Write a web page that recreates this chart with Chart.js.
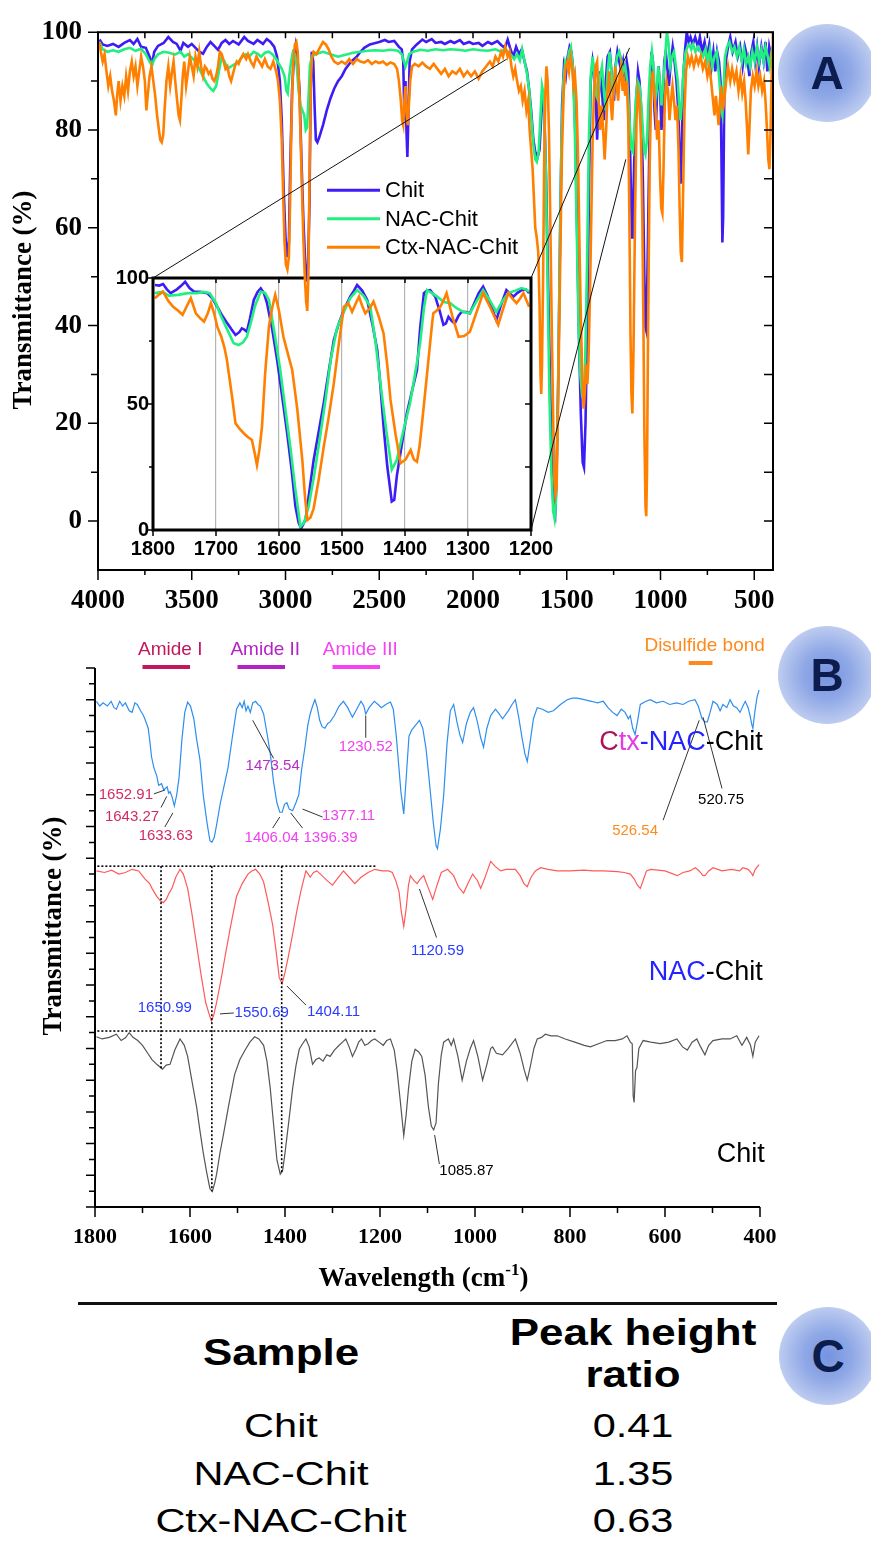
<!DOCTYPE html>
<html>
<head>
<meta charset="utf-8">
<title>FTIR spectra</title>
<script src="https://cdn.jsdelivr.net/npm/chart.js@4.4.1/dist/chart.umd.min.js"></script>
<style>
html,body{margin:0;padding:0;background:#fff}
body{position:relative;width:871px;height:1542px;overflow:hidden;font-family:Arial,"Liberation Sans",sans-serif}
canvas{position:absolute}
#cMain{left:0;top:0;z-index:2}
#cInset{left:100px;top:258px;z-index:1}
#cB{left:0;top:620px;z-index:1}
.badge{position:absolute;z-index:3;width:98px;height:98px;margin:-49px 0 0 -49px;border-radius:50%;
 background:radial-gradient(circle,#7693e0 0%,#8fa8e6 35%,#b6c6ee 65%,#d5def5 88%,rgba(226,232,248,.6) 100%);
 color:#0b1c4d;font:bold 46px Arial,"Liberation Sans",sans-serif;display:flex;align-items:center;justify-content:center}
.rule{position:absolute;left:78px;top:1302px;width:699px;height:3px;background:#111}
.cell{position:absolute;transform:translate(-50%,-50%) scaleX(1.22);white-space:nowrap;color:#000;line-height:1}
.hd{font-weight:bold;font-size:36px}
.rw{font-size:34px}
</style>
</head>
<body>
<canvas id="cMain" width="871" height="620"></canvas>
<canvas id="cInset" width="470" height="310"></canvas>
<canvas id="cB" width="871" height="680"></canvas>
<div class="badge" style="left:827px;top:73px">A</div>
<div class="badge" style="left:827px;top:675px">B</div>
<div class="badge" style="left:828px;top:1356px">C</div>
<div class="rule"></div>
<div id="table"></div>
<script>
// ---------- panel A : full range, [wavenumber, transmittance] ----------
const chitA = [[3992,98.5],[3975,97.5],[3950,97.2],[3920,97.6],[3890,97],[3860,97.8],[3830,98.4],[3810,97.6],[3790,98.6],[3770,97],[3745,96.8],[3725,95],[3712,93.5],[3700,96],[3680,97.2],[3650,97.8],[3625,99],[3600,98],[3580,97.6],[3560,96.2],[3545,97.8],[3520,97],[3500,97.6],[3480,96.8],[3460,96],[3440,95.6],[3420,97],[3400,98],[3380,97.2],[3360,96.4],[3340,97.8],[3320,98.4],[3300,97.6],[3280,98.2],[3250,97.5],[3220,99],[3200,98.2],[3170,97.6],[3150,98.4],[3120,97.6],[3100,98.6],[3080,98],[3060,97],[3045,95],[3030,90],[3020,82],[3010,68],[3000,58],[2990,54],[2982,57],[2975,72],[2965,88],[2955,95],[2945,97.5],[2938,96],[2925,88],[2915,74],[2905,62],[2895,53],[2888,49],[2880,52],[2872,65],[2866,88],[2860,96],[2852,94],[2845,85],[2838,78],[2830,77.5],[2820,78.5],[2800,81],[2780,84],[2760,86.5],[2740,88.5],[2720,90],[2700,91],[2680,92.5],[2650,94],[2620,95],[2600,96],[2580,96.8],[2550,97.5],[2520,97.8],[2500,98],[2470,98.4],[2450,98],[2420,98.2],[2395,97],[2380,96.5],[2372,94],[2366,82],[2360,90],[2355,80],[2350,74.5],[2344,84],[2338,94],[2325,96.5],[2300,97.5],[2270,98.5],[2250,98],[2220,98.6],[2200,97.8],[2170,98],[2150,97.6],[2120,98.2],[2100,97.8],[2070,98.4],[2050,97.6],[2020,98],[2000,97.6],[1970,97.8],[1950,97.2],[1920,98],[1900,97.6],[1870,98.2],[1850,97.4],[1830,96.8],[1815,98.5],[1800,96.5],[1785,95],[1770,97],[1755,95.5],[1740,96.5],[1725,94],[1712,92],[1700,88],[1690,84],[1678,78],[1668,75.5],[1655,74.5],[1645,76],[1637,82],[1628,88],[1620,84],[1610,70],[1600,50],[1590,30],[1580,12],[1570,2],[1562,1],[1555,8],[1545,30],[1535,60],[1525,85],[1515,93],[1505,91],[1495,95],[1485,97],[1475,96],[1465,92],[1455,80],[1445,60],[1435,38],[1425,22],[1415,12],[1408,11],[1400,20],[1390,42],[1380,72],[1372,90],[1362,94],[1352,91],[1345,86],[1338,78],[1330,86],[1322,92],[1312,88],[1302,82],[1292,90],[1282,95],[1270,96],[1258,90],[1248,86],[1240,93],[1230,96],[1220,94],[1210,92],[1200,94],[1190,90],[1180,94],[1172,92],[1165,82],[1158,68],[1152,58],[1147,62],[1140,74],[1130,86],[1120,92],[1112,90],[1103,84],[1095,72],[1088,55],[1082,40],[1076,39],[1070,50],[1062,70],[1055,88],[1048,96],[1040,94],[1032,84],[1025,80],[1018,88],[1010,93],[1002,88],[995,80],[988,84],[980,94],[972,96],[962,92],[955,89],[945,94],[935,97],[925,94],[915,90],[905,84],[898,74],[893,69],[888,74],[880,90],[870,96],[860,100],[850,98],[840,99],[828,97.5],[815,99],[800,97],[790,99],[778,96],[765,98],[752,95],[740,97.5],[728,93],[718,96],[708,92],[698,96],[688,94],[680,90],[675,75],[670,57],[666,62],[660,86],[652,94],[640,97],[628,99],[615,96],[600,98],[588,95],[575,97],[562,93],[550,97],[538,95],[526,91],[515,96],[505,98],[495,94],[485,97],[475,93],[462,97],[450,94],[440,98],[430,92],[420,97],[410,95],[403,97]];
const nacA = [[3992,98],[3975,96.5],[3950,96],[3920,96.3],[3890,96],[3860,96.5],[3830,96.8],[3800,96.2],[3770,96.6],[3745,95.5],[3725,94],[3712,93.2],[3700,94.5],[3680,95.5],[3650,96],[3620,95.8],[3590,95.4],[3560,96],[3540,95],[3520,95.5],[3500,94.8],[3480,94],[3460,92.5],[3440,91],[3420,89.5],[3400,88.5],[3385,88],[3370,89],[3355,92],[3340,95],[3325,94],[3310,92.5],[3290,93],[3270,93.5],[3250,94],[3230,95],[3210,95.5],[3190,95.2],[3170,96],[3150,95.6],[3130,95],[3110,95.8],[3090,96],[3070,95.5],[3050,94.5],[3035,93.5],[3020,92.5],[3005,91],[2995,88],[2988,87.5],[2980,91],[2970,94],[2960,96],[2950,95.5],[2940,93],[2930,88],[2920,85],[2910,84],[2900,83],[2892,80],[2885,80.5],[2878,86],[2870,93],[2860,95],[2840,95.5],[2800,96],[2760,95.5],[2720,95],[2680,95.4],[2640,95.8],[2600,96],[2560,96.2],[2520,96.3],[2480,96.2],[2440,96.4],[2400,96.2],[2380,95.5],[2368,94],[2360,93],[2352,94],[2340,95.5],[2320,96],[2280,96.4],[2240,96.2],[2200,96.5],[2160,96.3],[2120,96.5],[2080,96.4],[2040,96.2],[2000,96.5],[1960,96.3],[1920,96.2],[1880,96.5],[1850,96],[1830,96.6],[1810,95.8],[1800,95.5],[1780,94.5],[1765,95.5],[1750,94.2],[1738,96.5],[1725,94],[1712,91.5],[1700,88],[1688,82],[1678,77],[1668,74],[1660,73.5],[1650,75.5],[1640,83],[1632,89],[1622,87],[1612,72],[1602,48],[1592,25],[1582,10],[1572,2],[1565,0.5],[1558,4],[1548,22],[1538,52],[1528,78],[1518,90],[1508,94],[1498,93],[1488,96],[1478,97],[1468,93],[1458,82],[1448,62],[1438,42],[1428,30],[1418,25.5],[1410,25],[1402,32],[1392,52],[1382,78],[1372,91],[1362,95],[1352,91],[1342,87],[1332,86],[1322,91],[1312,93],[1302,88],[1292,84],[1282,92],[1272,96],[1262,92],[1252,87],[1242,92],[1232,95],[1220,96],[1208,94],[1198,92],[1188,93],[1178,90],[1170,85],[1162,80],[1155,76],[1148,75.5],[1140,80],[1132,86],[1122,90],[1112,89],[1102,85],[1094,80],[1087,76],[1080,75],[1072,78],[1064,86],[1055,93],[1046,96],[1036,92],[1028,86],[1020,88],[1012,93],[1003,90],[995,85],[985,90],[975,95],[966,100],[958,98],[948,93],[938,95],[928,96],[918,93],[908,90],[900,85],[893,82],[886,86],[876,93],[866,96],[856,97],[846,97.5],[836,96.5],[826,97.5],[814,96],[800,97],[786,96],[772,95],[760,96.5],[748,94],[736,96.5],[724,93],[712,95],[700,96],[690,92],[682,88],[676,84],[670,83],[664,88],[656,95],[645,97],[632,98],[618,96],[605,97],[592,95],[580,97],[566,94],[555,96.5],[543,93.5],[532,95],[522,93],[510,96],[498,94],[486,97],[474,94],[462,96.5],[450,94],[440,97],[428,95],[418,93],[408,96],[402,97]];
const ctxA = [[3992,98],[3985,96],[3975,94],[3965,95.5],[3955,92],[3945,89],[3935,91],[3925,88],[3915,86],[3905,83],[3898,87],[3890,90],[3880,86],[3870,89],[3860,87],[3850,91],[3840,88],[3830,92],[3820,94],[3810,91],[3800,93],[3790,89],[3780,92],[3770,95],[3760,93],[3750,90],[3742,84],[3735,87],[3725,91],[3715,93],[3705,90],[3695,87],[3685,83],[3675,80],[3668,78],[3660,77.5],[3652,79],[3645,84],[3635,90],[3625,93],[3615,89],[3605,92],[3597,94],[3588,90],[3578,86],[3570,83],[3563,82],[3556,86],[3548,91],[3540,94],[3530,89],[3520,92],[3510,95],[3500,93],[3490,91],[3480,95],[3470,93],[3460,96],[3450,93],[3440,91],[3430,93],[3420,92.5],[3410,91.5],[3400,92],[3390,90.5],[3380,90],[3370,91],[3360,93],[3350,96],[3340,95.5],[3330,94],[3320,92.5],[3310,93],[3300,91],[3290,90],[3280,91.5],[3270,93],[3260,94],[3250,93.5],[3240,94.5],[3225,95.5],[3210,94.5],[3200,95.5],[3185,94],[3170,93],[3155,95],[3140,94],[3125,93],[3110,94.5],[3095,93],[3080,92.5],[3065,94],[3050,92],[3040,90],[3030,86],[3020,78],[3012,66],[3005,57],[2998,52.5],[2990,51.5],[2982,54],[2975,66],[2968,82],[2960,93],[2950,97.5],[2942,98],[2935,96],[2925,86],[2915,72],[2905,58],[2897,50],[2890,45],[2884,43],[2878,50],[2872,70],[2865,90],[2858,95],[2850,96],[2835,95.5],[2815,97],[2800,98],[2785,97.5],[2770,96.5],[2755,95],[2740,94],[2720,93.5],[2700,94],[2680,93.5],[2660,94.5],[2640,93.5],[2620,94.5],[2600,94],[2580,93.8],[2560,94.3],[2540,93.5],[2520,94],[2500,93.7],[2480,94],[2460,93.3],[2440,93.8],[2420,93.5],[2405,92.5],[2395,90],[2385,86],[2378,82],[2372,81],[2366,86],[2360,89],[2354,83],[2348,81],[2342,85],[2335,90],[2325,93],[2310,93.5],[2290,93],[2270,93.8],[2250,93],[2230,92.5],[2210,93.5],[2190,92.5],[2170,91.5],[2150,92.5],[2130,91],[2110,92],[2090,91.5],[2070,92.5],[2050,91],[2030,92],[2010,91],[1990,92],[1970,90.5],[1950,92],[1930,93],[1910,94],[1895,93],[1880,95],[1865,94],[1850,96],[1840,95],[1828,97],[1815,95],[1805,96],[1795,93],[1785,91],[1775,92.5],[1765,90],[1755,88],[1745,89],[1735,86],[1725,88],[1715,84],[1706,86],[1698,80],[1690,76],[1682,72],[1675,66],[1668,60],[1660,58],[1652,55],[1645,44],[1640,30],[1636,26],[1632,32],[1626,50],[1620,75],[1614,88],[1608,93],[1602,90],[1595,80],[1588,62],[1580,40],[1572,20],[1565,8],[1560,5.5],[1554,7],[1546,25],[1536,50],[1526,75],[1516,88],[1506,93],[1496,94],[1488,92],[1480,95],[1472,93],[1464,89],[1456,91],[1448,86],[1440,75],[1432,56],[1424,40],[1416,28],[1410,23],[1404,26],[1397,32],[1390,28],[1384,33],[1377,45],[1370,60],[1362,78],[1354,88],[1346,93],[1338,94],[1330,86],[1322,80],[1314,85],[1306,80],[1298,74],[1290,80],[1282,88],[1274,92],[1266,86],[1258,82],[1250,88],[1242,93],[1234,89],[1226,86],[1218,91],[1210,93],[1202,88],[1195,90],[1188,87],[1180,90],[1172,82],[1166,62],[1160,38],[1155,26],[1150,22],[1144,35],[1136,62],[1128,82],[1120,88],[1112,86],[1104,78],[1097,62],[1091,40],[1086,18],[1080,3],[1076,1],[1072,10],[1066,40],[1058,72],[1050,88],[1042,92],[1034,88],[1026,84],[1018,78],[1010,82],[1002,70],[996,64],[990,63],[984,72],[977,86],[968,90],[960,88],[952,82],[944,86],[936,89],[928,86],[920,82],[912,85],[904,76],[898,64],[892,55],[886,53],[880,66],[872,84],[864,92],[854,95],[844,93.5],[834,95],[822,93],[810,95],[798,93.5],[786,95],[774,92.5],[762,94],[750,91],[740,93],[730,90],[720,86],[712,83],[705,87],[697,84],[690,81],[683,86],[675,89],[667,84],[660,86],[650,90],[640,93],[628,90],[618,92.5],[606,90],[595,92],[584,88],[574,91],[564,87.5],[554,90],[546,86],[538,80],[532,75],[526,80],[518,88],[508,91],[498,89],[488,92],[478,89],[468,91],[458,88],[448,90],[440,86],[432,80],[425,74],[419,72],[414,78],[409,88],[404,96],[401,100]];

// ---------- inset 1800-1200, own 0-100 scale ----------
const chitIn = [[1797,97.2],[1790,97],[1784,97.6],[1778,95.5],[1772,94],[1762,95.5],[1755,97],[1749,98.5],[1742,96],[1735,94.6],[1725,94.5],[1714,94],[1706,92],[1698,88.6],[1690,85],[1682,82],[1675,79.5],[1669,77.4],[1663,78.5],[1659,80],[1655,79.5],[1651,78.7],[1646,84],[1640,91.3],[1634,94.5],[1629,95.9],[1624,94],[1619,90],[1611,80],[1603,67.5],[1595,53],[1587,38.4],[1580,24],[1574,9.5],[1569,3],[1565,0.6],[1558,4],[1552,15],[1545,27.8],[1537,39],[1529,50.3],[1521,63],[1513,75.4],[1505,82],[1497,87.3],[1492,90],[1487,92.6],[1481,95],[1476,97.2],[1468,95],[1460,91.3],[1452,82],[1444,71.4],[1439,57],[1434,41],[1428,25],[1421,11.3],[1417,12],[1413,21.4],[1405,34],[1397,46.3],[1389,55],[1381,63.5],[1376,80],[1370,94],[1365,95],[1360,95.2],[1352,92.6],[1345,87],[1339,81.4],[1335,82],[1331,84.6],[1326,83],[1321,82],[1315,85],[1310,86.6],[1303,86.5],[1297,86],[1290,90],[1283,94],[1276,96.6],[1269,93],[1262,88],[1255,83.3],[1248,89],[1239,95.2],[1234,94],[1228,92.6],[1222,94],[1215,95.2],[1208,95.5],[1203,94]];
const nacIn = [[1797,94],[1785,94.5],[1775,93],[1760,93.3],[1745,94],[1730,94],[1720,94.5],[1710,94],[1700,90],[1693,85.4],[1683,80],[1672,74.1],[1664,73.4],[1657,74.5],[1651,76.7],[1645,82],[1638,89],[1629,94.6],[1622,94],[1616,91.3],[1607,78],[1598,63.5],[1590,48],[1582,33],[1574,16],[1566,1.3],[1560,3],[1553,9.3],[1544,22],[1534,38.4],[1526,52],[1518,67.5],[1508,80],[1497,86.6],[1487,92],[1476,95.2],[1466,93],[1455,88.6],[1447,75],[1439,58.2],[1430,40],[1421,24],[1413,27.8],[1402,40],[1392,50.3],[1384,62],[1376,74.1],[1370,88],[1365,95.2],[1357,94],[1349,92.6],[1338,90.5],[1328,90],[1318,88],[1307,86.5],[1297,86],[1288,90],[1276,95.2],[1265,91],[1255,86.6],[1245,91],[1236,94],[1225,95],[1215,96],[1208,95.5],[1203,94.6]];
const ctxIn = [[1797,92],[1790,93.5],[1784,94.6],[1776,91],[1768,88.6],[1760,87],[1753,85.4],[1746,89],[1740,92],[1736,89],[1732,86],[1725,84],[1719,82.7],[1713,86],[1708,90],[1703,86],[1698,80.7],[1692,77],[1687,72.8],[1683,68],[1679,60.9],[1674,52],[1669,42.3],[1662,40],[1656,38.4],[1650,37],[1643,35.7],[1639,31],[1635,25.8],[1631,32],[1627,41],[1622,62],[1616,80.7],[1611,88],[1606,93.3],[1600,87],[1593,76.7],[1586,70],[1579,63.5],[1571,48],[1563,27.8],[1559,14],[1555,4],[1550,5],[1545,8.6],[1537,20],[1529,33],[1521,45],[1513,58.2],[1505,74],[1497,88.6],[1490,90],[1484,86.6],[1478,90],[1473,92.6],[1468,89],[1463,86],[1456,88],[1450,90.6],[1442,85],[1434,78],[1428,65],[1423,51.6],[1415,38],[1407,26.5],[1399,28],[1391,31.7],[1386,28],[1381,27.1],[1377,33],[1373,42.3],[1365,62],[1357,82],[1355,86],[1350,87],[1344,88.6],[1339,91],[1334,94],[1325,85],[1315,76.7],[1306,77],[1297,78.7],[1287,86],[1276,94],[1264,88],[1252,81.4],[1244,88],[1236,94],[1230,92],[1223,90],[1217,92],[1212,94],[1207,91],[1203,88.6]];

// ---------- panel B : 1800-400, stacked with offsets (arbitrary units) ----------
const ctxB = [[1797,31.9],[1790,31.6],[1783,31.8],[1774,31.6],[1766,31.9],[1760,31.5],[1755,31.4],[1748,31.9],[1742,31.6],[1736,31.8],[1728,31.3],[1722,31.2],[1716,31.8],[1711,31.7],[1704,31.3],[1698,31.0],[1694,30.7],[1688,30.2],[1685,29.5],[1681,28.4],[1676,27.7],[1670,27.2],[1666,26.6],[1660,26.7],[1655,26.3],[1652,26.4],[1648,26.5],[1645,26.1],[1642,26.2],[1638,25.9],[1633,25.3],[1628,26.0],[1623,27.1],[1617,29.5],[1611,31.2],[1605,31.85],[1599,31.6],[1592,30.8],[1586,29.5],[1579,28.2],[1572,25.95],[1564,24.2],[1558,23.1],[1554,23.0],[1549,23.3],[1544,24.1],[1536,25.5],[1528,26.6],[1520,27.7],[1511,29.6],[1502,31.4],[1495,31.8],[1490,31.5],[1486,31.9],[1482,31.3],[1478,31.6],[1473,31.2],[1468,31.8],[1462,31.9],[1457,31.7],[1452,31.6],[1445,31.1],[1438,29.9],[1431,28.6],[1424,26.8],[1417,25.5],[1411,24.9],[1406,24.9],[1401,25.4],[1396,25.5],[1391,25.1],[1384,25.0],[1377,25.5],[1371,26.0],[1365,27.6],[1358,29.0],[1352,30.4],[1347,31.1],[1342,31.6],[1337,32.0],[1332,31.5],[1327,30.7],[1322,30.3],[1316,30.2],[1310,30.5],[1305,30.6],[1296,31.0],[1286,31.6],[1277,31.9],[1268,31.5],[1258,30.9],[1249,31.4],[1240,31.9],[1234,31.6],[1230,31.1],[1223,31.5],[1212,31.9],[1204,31.7],[1197,31.5],[1188,31.7],[1178,31.85],[1172,31.4],[1166,29.8],[1161,28.0],[1156,26.2],[1150,24.8],[1145,27.0],[1139,29.7],[1133,30.1],[1125,30.4],[1117,30.7],[1110,30.2],[1103,28.9],[1096,26.8],[1088,24.3],[1082,22.8],[1079,22.6],[1073,23.8],[1066,25.95],[1059,29.2],[1052,31.3],[1045,31.7],[1038,30.6],[1032,29.8],[1026,29.3],[1018,30.5],[1010,31.2],[1003,31.5],[995,30.6],[988,29.6],[982,29.0],[975,30.2],[967,31.0],[957,31.4],[949,31.1],[942,30.8],[930,31.3],[922,31.7],[915,32.0],[908,30.9],[901,29.6],[895,28.6],[890,28.1],[884,29.3],[877,30.8],[869,31.5],[858,31.4],[846,31.2],[835,31.3],[820,31.7],[806,32.0],[795,32.1],[785,32.1],[770,32.0],[755,31.9],[742,31.8],[730,31.9],[720,31.5],[710,31.2],[701,31.0],[692,31.4],[684,31.2],[677,30.8],[673,31.0],[668,30.2],[663,29.8],[658,30.6],[652,31.7],[640,31.9],[631,32.0],[618,31.8],[604,31.9],[590,31.7],[576,31.8],[562,31.7],[550,31.9],[537,32.0],[530,31.6],[522,30.8],[516,30.6],[511,30.6],[505,31.2],[499,31.9],[490,31.7],[484,31.3],[478,31.7],[470,31.5],[463,32.0],[456,31.6],[449,31.5],[442,31.2],[436,31.6],[431,31.9],[425,31.5],[421,31.0],[417,30.4],[415,30.2],[411,31.2],[406,32.2],[402,32.6]];
const nacB = [[1797,21.2],[1780,21.1],[1765,21.25],[1750,21.0],[1736,21.1],[1722,21.3],[1708,21.2],[1695,20.7],[1685,20.4],[1680,20.1],[1670,19.6],[1662,19.3],[1656,19.2],[1650,19.4],[1644,19.8],[1638,20.1],[1630,20.8],[1621,21.3],[1614,21.0],[1605,20.1],[1596,18.5],[1586,16.5],[1577,14.7],[1567,12.9],[1560,12.2],[1555,11.75],[1550,12.1],[1544,12.9],[1535,14.3],[1525,16.0],[1514,17.8],[1502,19.6],[1490,20.4],[1478,21.0],[1470,21.2],[1462,21.3],[1453,21.0],[1445,20.5],[1436,19.3],[1426,17.8],[1419,16.2],[1412,14.45],[1406,14.1],[1400,14.8],[1393,15.8],[1384,17.2],[1375,18.7],[1366,20.0],[1356,21.2],[1351,21.0],[1347,20.8],[1340,21.1],[1333,21.2],[1322,20.9],[1312,20.6],[1300,20.3],[1290,20.7],[1277,21.2],[1265,20.8],[1253,20.4],[1240,20.8],[1225,21.1],[1211,21.3],[1195,21.2],[1182,21.2],[1174,21.1],[1167,20.6],[1160,19.9],[1155,18.6],[1150,17.7],[1145,18.8],[1140,20.3],[1136,20.9],[1129,20.6],[1122,20.4],[1115,20.7],[1108,20.9],[1098,20.1],[1089,19.4],[1080,20.3],[1071,21.1],[1058,21.3],[1045,20.9],[1035,20.2],[1024,19.8],[1015,20.4],[1005,21.0],[995,20.6],[988,20.1],[980,20.7],[967,21.8],[958,21.5],[946,21.2],[935,21.3],[925,21.3],[915,21.3],[905,20.9],[897,20.4],[890,20.2],[882,20.8],[873,21.2],[862,21.4],[846,21.3],[827,21.2],[800,21.2],[770,21.25],[752,21.2],[730,21.2],[700,21.15],[686,21.1],[673,21.0],[665,20.7],[658,20.3],[652,20.1],[646,20.6],[639,21.2],[630,21.3],[600,21.2],[574,20.9],[562,21.1],[548,21.2],[536,21.4],[528,21.2],[520,20.9],[516,20.9],[508,21.2],[499,21.4],[480,21.2],[460,21.3],[443,21.2],[436,21.4],[425,21.3],[419,21.1],[415,20.9],[410,21.3],[402,21.6]];
const chitB = [[1797,10.74],[1785,10.6],[1770,10.7],[1755,10.9],[1745,10.5],[1736,10.67],[1728,11.0],[1720,10.7],[1710,10.5],[1700,10.2],[1689,9.7],[1680,9.3],[1670,9.0],[1658,8.7],[1650,8.95],[1642,9.0],[1632,9.9],[1621,10.6],[1612,10.2],[1605,9.5],[1595,7.8],[1586,6.3],[1579,4.8],[1572,3.4],[1565,2.2],[1558,1.16],[1553,0.98],[1548,1.5],[1544,2.07],[1537,3.4],[1530,4.5],[1518,6.5],[1506,8.37],[1495,9.3],[1483,9.95],[1474,10.4],[1464,10.74],[1455,10.6],[1445,10.2],[1438,9.2],[1431,7.47],[1424,5.2],[1417,2.97],[1410,2.07],[1405,2.3],[1400,3.4],[1392,5.4],[1384,7.47],[1377,8.9],[1370,9.95],[1363,10.3],[1356,10.6],[1349,10.1],[1342,9.0],[1335,9.3],[1328,9.4],[1320,9.2],[1312,9.6],[1305,9.5],[1296,9.9],[1286,10.2],[1279,10.4],[1272,10.6],[1265,10.1],[1258,9.5],[1250,10.0],[1245,10.4],[1239,10.6],[1232,10.2],[1225,10.3],[1218,10.5],[1211,10.6],[1202,10.4],[1193,10.2],[1186,10.5],[1178,10.6],[1170,9.9],[1164,8.6],[1157,6.6],[1150,4.5],[1145,5.8],[1140,7.47],[1133,9.2],[1126,9.95],[1119,9.8],[1112,9.5],[1105,8.3],[1098,6.3],[1092,5.1],[1087,4.86],[1082,5.3],[1077,7.8],[1071,9.6],[1066,10.4],[1061,10.5],[1056,10.6],[1050,10.2],[1045,10.6],[1036,9.5],[1027,8.0],[1018,9.2],[1010,10.0],[1003,10.5],[994,9.5],[984,8.0],[975,9.0],[967,10.0],[963,10.1],[955,9.7],[942,9.6],[930,10.0],[915,10.6],[905,9.7],[896,8.6],[890,8.0],[884,8.8],[876,10.0],[869,10.6],[860,10.7],[852,10.9],[840,10.8],[827,10.8],[810,10.6],[790,10.4],[770,10.2],[757,10.1],[740,10.3],[722,10.5],[705,10.5],[690,10.6],[680,10.8],[673,10.4],[669,10.3],[667,7.0],[665,6.6],[662,8.6],[659,8.8],[655,10.0],[646,10.5],[630,10.4],[610,10.3],[592,10.4],[575,10.6],[563,10.1],[553,9.9],[543,10.4],[533,10.6],[525,10.1],[516,9.6],[508,10.2],[499,10.5],[480,10.6],[463,10.6],[449,10.8],[438,10.2],[428,10.7],[420,10.2],[415,9.5],[410,10.4],[402,10.8]];

// dotted reference lines in panel B
const guideLevels = [21.5, 11.1];
const guideSpan = [1795, 1208];
const guidePeaks = [[1661, 8.7], [1554, 1.0], [1407, 2.1]];

// ticks
const xTicksA = [4000, 3500, 3000, 2500, 2000, 1500, 1000, 500];
const yTicksA = [0, 20, 40, 60, 80, 100];
const xTicksIn = [1800, 1700, 1600, 1500, 1400, 1300, 1200];
const yTicksIn = [0, 50, 100];
const xTicksB = [1800, 1600, 1400, 1200, 1000, 800, 600, 400];

// zoom guide targets on the main plot [wavenumber, T]
const zoomGuides = [[1820, 94.5], [1165, 96.8], [1185, 74]];

// band markers of panel B
const bands = [
  {text: 'Amide I', from: 1700, to: 1600, color: '#c2185b', lift: 0},
  {text: 'Amide II', from: 1500, to: 1400, color: '#b322c4', lift: 0},
  {text: 'Amide III', from: 1300, to: 1200, color: '#f542f5', lift: 0},
  {text: 'Disulfide bond', from: 550, to: 500, color: '#ff8a1c', lift: 4}
];

const PINK = '#d12b67', PURP = '#b52ec8', MAG = '#f03ff0', ORG = '#ff8a1c', BLU = '#2b3cff';
const peakNotes = [
  {t: '1652.91', c: PINK, at: [1735, 26.0], ln: [[1676, 26.06], [1653, 26.3]]},
  {t: '1643.27', c: PINK, at: [1722, 24.6], ln: [[1661, 25.2], [1649, 25.9]]},
  {t: '1633.63', c: PINK, at: [1651, 23.4], ln: [[1653, 23.97], [1636, 24.86]]},
  {t: '1473.54', c: PURP, at: [1426, 27.8], ln: [[1468, 30.7], [1424, 28.3]]},
  {t: '1230.52', c: MAG, at: [1230, 29.0], ln: [[1230, 31.0], [1230, 29.6]]},
  {t: '1377.11', c: MAG, at: [1266, 24.7], ln: [[1363, 25.1], [1321, 24.6]]},
  {t: '1406.04', c: MAG, at: [1428, 23.3], ln: [[1426, 23.9], [1411, 24.6]]},
  {t: '1396.39', c: MAG, at: [1304, 23.3], ln: [[1388, 24.86], [1363, 23.9]]},
  {t: '520.75', c: '#000', at: [482, 25.7], ln: [[520, 30.9], [480, 26.4]]},
  {t: '526.54', c: ORG, at: [663, 23.7], ln: [[604, 24.4], [528, 30.7]]},
  {t: '1120.59', c: BLU, at: [1079, 16.15], ln: [[1117, 20.06], [1081, 17.0]]},
  {t: '1650.99', c: BLU, at: [1653, 12.55], ln: null},
  {t: '1550.69', c: BLU, at: [1449, 12.24], ln: [[1537, 12.18], [1508, 12.24]]},
  {t: '1404.11', c: BLU, at: [1298, 12.3], ln: [[1396, 13.94], [1356, 12.74]]},
  {t: '1085.87', c: '#000', at: [1018, 2.27], ln: [[1085, 4.54], [1075, 2.71]]}
];

const seriesTags = [
  {parts: [['C', '#b0105a'], ['tx', '#e23be2'], ['-NAC', '#2323ff'], ['-Chit', '#000']], at: [394, 29.3]},
  {parts: [['NAC', '#2323ff'], ['-Chit', '#000']], at: [394, 14.8]},
  {parts: [['Chit', '#000']], at: [390, 3.3]}
];

// table C
const sampleNames = ['Chit', 'NAC-Chit', 'Ctx-NAC-Chit'];
const peakRatio = ['0.41', '1.35', '0.63'];

const SERIF = '"Times New Roman","Liberation Serif",serif';
const SANS = 'Arial,"Liberation Sans",sans-serif';
const COL = {chit: '#3d1df5', nac: '#21ef7f', ctx: '#ff7f00'};

Chart.defaults.font.family = SANS;
Chart.defaults.color = '#000';
Chart.defaults.animation = false;

const pts = a => a.map(p => ({x: p[0], y: p[1]}));

function line(label, arr, color, w, order) {
  return {label, data: pts(arr), borderColor: color, backgroundColor: color,
    borderWidth: w, pointRadius: 0, tension: 0, fill: false, order};
}

function seg(ctx, x1, y1, x2, y2) {
  ctx.beginPath(); ctx.moveTo(x1, y1); ctx.lineTo(x2, y2); ctx.stroke();
}

function vText(ctx, txt, cx, cy, font) {
  ctx.save();
  ctx.translate(cx, cy); ctx.rotate(-Math.PI / 2);
  ctx.font = font; ctx.textAlign = 'center'; ctx.textBaseline = 'middle';
  ctx.fillStyle = '#000';
  ctx.fillText(txt, 0, 0);
  ctx.restore();
}

const noGrid = {display: false, drawTicks: false};

// ---------- inset ----------
const insetDeco = {
  id: 'insetDeco',
  beforeDraw(chart) {
    const {ctx, chartArea: a} = chart;
    ctx.save(); ctx.fillStyle = '#fff';
    ctx.fillRect(a.left, a.top, a.right - a.left, a.bottom - a.top);
    ctx.restore();
  },
  afterDatasetsDraw(chart) {
    const {ctx, chartArea: a, scales: {x, y}} = chart;
    ctx.save();
    ctx.strokeStyle = '#000'; ctx.lineWidth = 1.5;
    ctx.beginPath();
    for (let v = 1200; v <= 1800; v += 100) {
      const px = x.getPixelForValue(v);
      ctx.moveTo(px, a.bottom); ctx.lineTo(px, a.bottom + 6);
      ctx.moveTo(px, a.top); ctx.lineTo(px, a.top + 5);
    }
    for (let v = 0; v <= 100; v += 25) {
      const py = y.getPixelForValue(v);
      ctx.moveTo(a.left - (v % 50 === 0 ? 6 : 4), py); ctx.lineTo(a.left, py);
      ctx.moveTo(a.right, py); ctx.lineTo(a.right - 6, py);
    }
    ctx.stroke();
    ctx.lineWidth = 3;
    ctx.strokeRect(a.left, a.top, a.right - a.left, a.bottom - a.top);
    ctx.restore();
  }
};

const inset = new Chart(document.getElementById('cInset'), {
  type: 'line',
  data: {datasets: [
    line('Chit', chitIn, COL.chit, 2.6, 3),
    line('NAC-Chit', nacIn, COL.nac, 2.6, 2),
    line('Ctx-NAC-Chit', ctxIn, COL.ctx, 2.6, 1)
  ]},
  options: {
    responsive: false, events: [],
    layout: {padding: {top: 20, right: 39, left: 0, bottom: 0}},
    plugins: {legend: {display: false}, tooltip: {enabled: false}},
    scales: {
      x: {type: 'linear', reverse: true, min: 1200, max: 1800,
        afterBuildTicks: s => { s.ticks = xTicksIn.map(v => ({value: v})); },
        afterFit: s => { s.height = 38; },
        grid: {drawTicks: false, lineWidth: 1.2,
          color: c => (c.tick && c.tick.value > 1200 && c.tick.value < 1800) ? '#b5b5b5' : 'rgba(0,0,0,0)'},
        border: {display: false},
        ticks: {font: {size: 20, weight: 'bold'}, padding: 7, maxRotation: 0, callback: v => String(v)}},
      y: {min: 0, max: 100,
        afterBuildTicks: s => { s.ticks = yTicksIn.map(v => ({value: v})); },
        afterFit: s => { s.width = 53; },
        grid: noGrid, border: {display: false},
        ticks: {font: {size: 20, weight: 'bold'}, padding: 4, callback: v => String(v)}}
    }
  },
  plugins: [insetDeco]
});

// ---------- panel A ----------
const mainDeco = {
  id: 'mainDeco',
  afterDatasetsDraw(chart) {
    const {ctx, chartArea: a, scales: {x, y}} = chart;
    ctx.save();
    ctx.strokeStyle = '#000'; ctx.lineWidth = 1.5;
    ctx.beginPath();
    for (let v = 500; v <= 4000; v += 250) {
      const px = x.getPixelForValue(v);
      ctx.moveTo(px, a.bottom); ctx.lineTo(px, a.bottom + (v % 500 === 0 ? 10 : 5));
      if (v < 4000) { ctx.moveTo(px, a.top); ctx.lineTo(px, a.top + 6); }
    }
    for (let v = 0; v <= 100; v += 10) {
      const py = y.getPixelForValue(v);
      ctx.moveTo(a.left - (v % 20 === 0 ? 10 : 7), py); ctx.lineTo(a.left, py);
      if (v < 100) { ctx.moveTo(a.right - 9, py); ctx.lineTo(a.right, py); }
    }
    ctx.stroke();
    ctx.lineWidth = 2;
    ctx.strokeRect(a.left, a.top, a.right - a.left, a.bottom - a.top);

    // lines tying the inset to its range
    const ia = inset.chartArea, ox = inset.canvas.offsetLeft, oy = inset.canvas.offsetTop;
    const corners = [[ia.left, ia.top], [ia.right, ia.top], [ia.right, ia.bottom]];
    ctx.lineWidth = 1; ctx.strokeStyle = '#111';
    zoomGuides.forEach((g, i) => {
      seg(ctx, corners[i][0] + ox, corners[i][1] + oy, x.getPixelForValue(g[0]), y.getPixelForValue(g[1]));
    });

    // legend
    ctx.font = '22px ' + SANS; ctx.textAlign = 'left'; ctx.textBaseline = 'middle';
    chart.data.datasets.forEach((d, i) => {
      const ly = a.top + 158 + i * 28.5;
      ctx.strokeStyle = d.borderColor; ctx.lineWidth = 3;
      seg(ctx, a.left + 229, ly, a.left + 282, ly);
      ctx.fillStyle = '#000';
      ctx.fillText(d.label, a.left + 287, ly + 1);
    });
    ctx.restore();

    vText(ctx, 'Transmittance (%)', 24, 300, 'bold 27px ' + SERIF);
  }
};

new Chart(document.getElementById('cMain'), {
  type: 'line',
  data: {datasets: [
    line('Chit', chitA, COL.chit, 2.6, 3),
    line('NAC-Chit', nacA, COL.nac, 2.6, 2),
    line('Ctx-NAC-Chit', ctxA, COL.ctx, 2.6, 1)
  ]},
  options: {
    responsive: false, events: [],
    layout: {padding: {top: 26, right: 98, left: 0, bottom: 0}},
    plugins: {legend: {display: false}, tooltip: {enabled: false}},
    scales: {
      x: {type: 'linear', reverse: true, min: 400, max: 4000,
        afterBuildTicks: s => { s.ticks = xTicksA.map(v => ({value: v})); },
        afterFit: s => { s.height = 50; },
        grid: noGrid, border: {display: false},
        ticks: {font: {family: SERIF, size: 27, weight: 'bold'}, padding: 15, maxRotation: 0, callback: v => String(v)}},
      y: {min: -10, max: 100,
        afterBuildTicks: s => { s.ticks = yTicksA.map(v => ({value: v})); },
        afterFit: s => { s.width = 98; },
        grid: noGrid, border: {display: false},
        ticks: {font: {family: SERIF, size: 27, weight: 'bold'}, padding: 16, callback: v => String(v)}}
    }
  },
  plugins: [mainDeco]
});

// ---------- panel B ----------
const bDeco = {
  id: 'bDeco',
  afterDatasetsDraw(chart) {
    const {ctx, chartArea: a, scales: {x, y}} = chart;
    const X = v => x.getPixelForValue(v), Y = v => y.getPixelForValue(v);
    ctx.save();
    ctx.strokeStyle = '#000'; ctx.lineWidth = 2;
    ctx.beginPath();
    ctx.moveTo(a.left, a.top); ctx.lineTo(a.left, a.bottom); ctx.lineTo(a.right, a.bottom);
    ctx.stroke();
    ctx.lineWidth = 1.5;
    ctx.beginPath();
    for (let v = 0; v <= 34; v++) {
      const py = Y(v);
      ctx.moveTo(a.left - (v % 2 === 0 ? 9 : 6), py); ctx.lineTo(a.left, py);
    }
    for (let v = 400; v <= 1800; v += 100) {
      const px = X(v);
      ctx.moveTo(px, a.bottom); ctx.lineTo(px, a.bottom + (v % 200 === 0 ? 10 : 6));
    }
    ctx.stroke();

    // band markers
    ctx.textAlign = 'center'; ctx.textBaseline = 'middle';
    ctx.font = '19px ' + SANS;
    bands.forEach(b => {
      const by = a.top - 1 - b.lift;
      ctx.strokeStyle = b.color; ctx.lineWidth = 4;
      seg(ctx, X(b.from), by, X(b.to), by);
      ctx.fillStyle = b.color;
      ctx.fillText(b.text, (X(b.from) + X(b.to)) / 2 + 4, by - 17);
    });

    // peak labels
    ctx.font = '15px ' + SANS;
    peakNotes.forEach(n => {
      if (n.ln) {
        ctx.strokeStyle = '#333'; ctx.lineWidth = 1;
        seg(ctx, X(n.ln[0][0]), Y(n.ln[0][1]), X(n.ln[1][0]), Y(n.ln[1][1]));
      }
      ctx.fillStyle = n.c;
      ctx.fillText(n.t, X(n.at[0]), Y(n.at[1]));
    });

    // sample names at the right
    ctx.font = '27px ' + SANS; ctx.textAlign = 'left';
    seriesTags.forEach(s => {
      const total = s.parts.reduce((w, p) => w + ctx.measureText(p[0]).width, 0);
      let cx = X(s.at[0]) - total;
      s.parts.forEach(p => {
        ctx.fillStyle = p[1];
        ctx.fillText(p[0], cx, Y(s.at[1]));
        cx += ctx.measureText(p[0]).width;
      });
    });

    // axis titles
    ctx.fillStyle = '#000'; ctx.textBaseline = 'alphabetic';
    const big = 'bold 27px ' + SERIF, small = 'bold 17px ' + SERIF;
    ctx.font = big;
    const t1 = 'Wavelength (cm', t3 = ')';
    ctx.font = big; const w1 = ctx.measureText(t1).width, w3 = ctx.measureText(t3).width;
    ctx.font = small; const w2 = ctx.measureText('-1').width;
    let tx = (a.left + a.right) / 2 - 4 - (w1 + w2 + w3) / 2;
    const ty = a.bottom + 79;
    ctx.textAlign = 'left';
    ctx.font = big; ctx.fillText(t1, tx, ty); tx += w1;
    ctx.font = small; ctx.fillText('-1', tx, ty - 11); tx += w2;
    ctx.font = big; ctx.fillText(t3, tx, ty);
    ctx.restore();

    vText(ctx, 'Transmittance (%)', 54, 306, 'bold 27px ' + SERIF);
  }
};

const dotted = (arr) => ({data: pts(arr), borderColor: '#000', borderWidth: 1.6, borderDash: [2, 2],
  pointRadius: 0, fill: false, order: 0});

new Chart(document.getElementById('cB'), {
  type: 'line',
  data: {datasets: [
    line('Ctx-NAC-Chit', ctxB, '#2e8ef0', 1.2, 3),
    line('NAC-Chit', nacB, '#ff5a5a', 1.2, 2),
    line('Chit', chitB, '#555555', 1.2, 1),
    ...guideLevels.map(g => dotted([[guideSpan[0], g], [guideSpan[1], g]])),
    ...guidePeaks.map(p => dotted([[p[0], guideLevels[0]], [p[0], p[1]]]))
  ]},
  options: {
    responsive: false, events: [],
    layout: {padding: {top: 48, right: 111, left: 0, bottom: 0}},
    plugins: {legend: {display: false}, tooltip: {enabled: false}},
    scales: {
      x: {type: 'linear', reverse: true, min: 400, max: 1800,
        afterBuildTicks: s => { s.ticks = xTicksB.map(v => ({value: v})); },
        afterFit: s => { s.height = 93; },
        grid: noGrid, border: {display: false},
        ticks: {font: {family: SERIF, size: 22, weight: 'bold'}, padding: 17, maxRotation: 0, callback: v => String(v)}},
      y: {min: 0, max: 34,
        afterFit: s => { s.width = 95; },
        grid: noGrid, border: {display: false},
        ticks: {display: false}}
    }
  },
  plugins: [bDeco]
});

// ---------- table C ----------
const tbl = document.getElementById('table');
function cell(txt, cls, x, y) {
  const d = document.createElement('div');
  d.className = 'cell ' + cls;
  d.style.left = x + 'px'; d.style.top = y + 'px';
  d.textContent = txt;
  tbl.appendChild(d);
}
cell('Sample', 'hd', 281, 1353);
cell('Peak height', 'hd', 633, 1333);
cell('ratio', 'hd', 633, 1375);
sampleNames.forEach((s, i) => {
  cell(s, 'rw', 281, 1425 + i * 47.5);
  cell(peakRatio[i], 'rw', 633, 1425 + i * 47.5);
});
</script>
</body>
</html>
